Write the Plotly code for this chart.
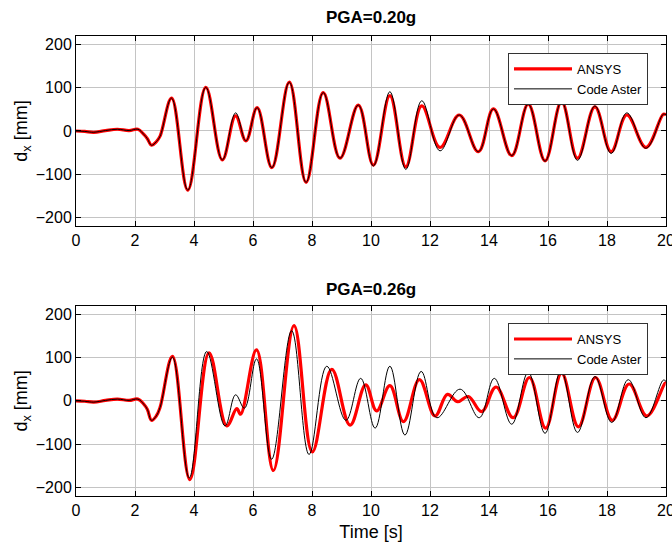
import plotly.graph_objects as go

# ---------------- Data (turning points of each curve) ----------------
# PGA = 0.20g
t_top = [0, 0.3, 0.6, 1.0, 1.4, 1.8, 2.1, 2.3, 2.42, 2.56, 2.72, 2.85,
         3.24, 3.79, 4.40, 4.96, 5.41, 5.76, 6.14, 6.64, 7.23, 7.80,
         8.38, 8.95, 9.57, 10.08, 10.64, 11.18, 11.72, 12.34, 12.99, 13.64,
         14.15, 14.77, 15.33, 15.90, 16.46, 17.00, 17.59, 18.14, 18.67, 19.32,
         19.91, 20.0]
ansys_top = [0, -1, -3, 1, 4, 1, 4, -8, -18, -33, -25, -12,
             76, -137, 101, -67, 35, -23, 54, -85, 113, -119,
             89, -63, 60, -79, 82, -83, 58, -38, 37, -48,
             51, -57, 62, -69, 68, -63, 56, -48, 37, -38,
             39, 37]
aster_top = [0, -1, -3, 1, 4, 1, 4, -8, -18, -33, -25, -12,
             76, -137, 101, -67, 42, -23, 54, -85, 113, -119,
             89, -63, 60, -81, 91, -89, 70, -46, 37, -48,
             51, -57, 62, -70, 68, -68, 58, -52, 42, -40,
             39, 37]

# PGA = 0.26g
t_bot_ansys = [0, 0.3, 0.6, 1.0, 1.4, 1.8, 2.1, 2.3, 2.42, 2.56, 2.72, 2.85,
               3.27, 3.86, 4.51, 5.11, 5.45, 5.58, 6.12, 6.69, 7.39, 8.01,
               8.67, 9.29, 9.82, 10.19, 10.64, 11.1, 11.64, 12.17, 12.59, 12.94,
               13.3, 13.75, 14.24, 14.82, 15.37, 15.92, 16.46, 17.03, 17.61, 18.18,
               18.75, 19.35, 19.97, 20.0]
ansys_bot = [0, -1, -3, 1, 4, 1, 4, -8, -20, -45, -35, -15,
             103, -182, 111, -58, -18, -31, 118, -161, 174, -118,
             73, -56, 37, -23, 35, -48, 49, -35, 15, -2,
             10, -25, 32, -39, 54, -63, 64, -60, 54, -45,
             39, -35, 41, 41]

t_bot_aster = [0, 0.3, 0.6, 1.0, 1.4, 1.8, 2.1, 2.3, 2.42, 2.56, 2.72, 2.85,
               3.27, 3.84, 4.43, 5.05, 5.41, 5.71, 6.12, 6.63, 7.31, 7.90,
               8.50, 9.15, 9.65, 10.14, 10.64, 11.15, 11.70, 12.23, 13.02, 13.67,
               14.18, 14.77, 15.33, 15.90, 16.44, 17.00, 17.59, 18.16, 18.72, 19.32,
               19.91, 20.0]
aster_bot = [0, -1, -3, 1, 4, 1, 4, -8, -20, -45, -35, -15,
             101, -178, 114, -58, 14, -17, 97, -135, 162, -124,
             80, -45, 52, -63, 80, -79, 68, -39, 27, -39,
             52, -54, 66, -75, 70, -73, 56, -50, 49, -39,
             48, 45]

x_ticks = [0, 2, 4, 6, 8, 10, 12, 14, 16, 18, 20]
y_ticks = [-200, -100, 0, 100, 200]
titles = ["PGA=0.20g", "PGA=0.26g"]
names = ["ANSYS", "Code Aster"]

# ---------------- Figure ----------------
FONT = "Liberation Sans, Arial, sans-serif"
SMOOTH = 1.1
fig = go.Figure()

fig.add_trace(go.Scatter(x=t_top, y=ansys_top, name=names[0], mode="lines",
                         line=dict(color="#ff0000", width=3.2, shape="spline", smoothing=SMOOTH),
                         xaxis="x", yaxis="y", legend="legend"))
fig.add_trace(go.Scatter(x=t_top, y=aster_top, name=names[1], mode="lines",
                         line=dict(color="#000000", width=1, shape="spline", smoothing=SMOOTH),
                         xaxis="x", yaxis="y", legend="legend"))
fig.add_trace(go.Scatter(x=t_bot_ansys, y=ansys_bot, name=names[0], mode="lines",
                         line=dict(color="#ff0000", width=3.2, shape="spline", smoothing=SMOOTH),
                         xaxis="x2", yaxis="y2", legend="legend2"))
fig.add_trace(go.Scatter(x=t_bot_aster, y=aster_bot, name=names[1], mode="lines",
                         line=dict(color="#000000", width=1, shape="spline", smoothing=SMOOTH),
                         xaxis="x2", yaxis="y2", legend="legend2"))

axis_common = dict(showline=True, linecolor="black", linewidth=1, mirror="ticks",
                   ticks="inside", ticklen=5, tickcolor="black", automargin=False,
                   showgrid=True, gridcolor="#c4c4c4", gridwidth=1, zeroline=False,
                   tickfont=dict(family=FONT, size=16, color="black"))

legend_common = dict(xanchor="right", yanchor="top", bgcolor="white",
                     bordercolor="#333333", borderwidth=1, itemwidth=58,
                     font=dict(family=FONT, size=13, color="black"), tracegroupgap=0)

ytitle = dict(text="d<sub>x</sub> [mm]", font=dict(family=FONT, size=18), standoff=3)

fig.update_layout(
    width=672, height=542,
    margin=dict(l=76, r=6, t=36, b=46, autoexpand=False),
    paper_bgcolor="white", plot_bgcolor="white",
    font=dict(family=FONT, color="black"),
    xaxis=dict(domain=[0, 1], range=[0, 20], tickvals=x_ticks, anchor="y",
               ticklabeloverflow="allow", **axis_common),
    yaxis=dict(domain=[0.587, 1], range=[-220, 220], tickvals=y_ticks, anchor="x",
               title=ytitle, **axis_common),
    xaxis2=dict(domain=[0, 1], range=[0, 20], tickvals=x_ticks, anchor="y2",
                ticklabeloverflow="allow",
                title=dict(text="Time [s]", font=dict(family=FONT, size=18), standoff=7),
                **axis_common),
    yaxis2=dict(domain=[0, 0.4137], range=[-220, 220], tickvals=y_ticks, anchor="x2",
                title=ytitle, **axis_common),
    legend=dict(x=0.9695, y=0.963, **legend_common),
    legend2=dict(x=0.9695, y=0.376, **legend_common),
    showlegend=True,
)

fig.add_annotation(text="<b>" + titles[0] + "</b>", x=0.5, y=1, xref="paper", yref="paper",
                   xanchor="center", yanchor="bottom", yshift=7, showarrow=False,
                   font=dict(family=FONT, size=17, color="black"))
fig.add_annotation(text="<b>" + titles[1] + "</b>", x=0.5, y=0.4137, xref="paper", yref="paper",
                   xanchor="center", yanchor="bottom", yshift=5, showarrow=False,
                   font=dict(family=FONT, size=17, color="black"))

fig.write_html("out.html")
